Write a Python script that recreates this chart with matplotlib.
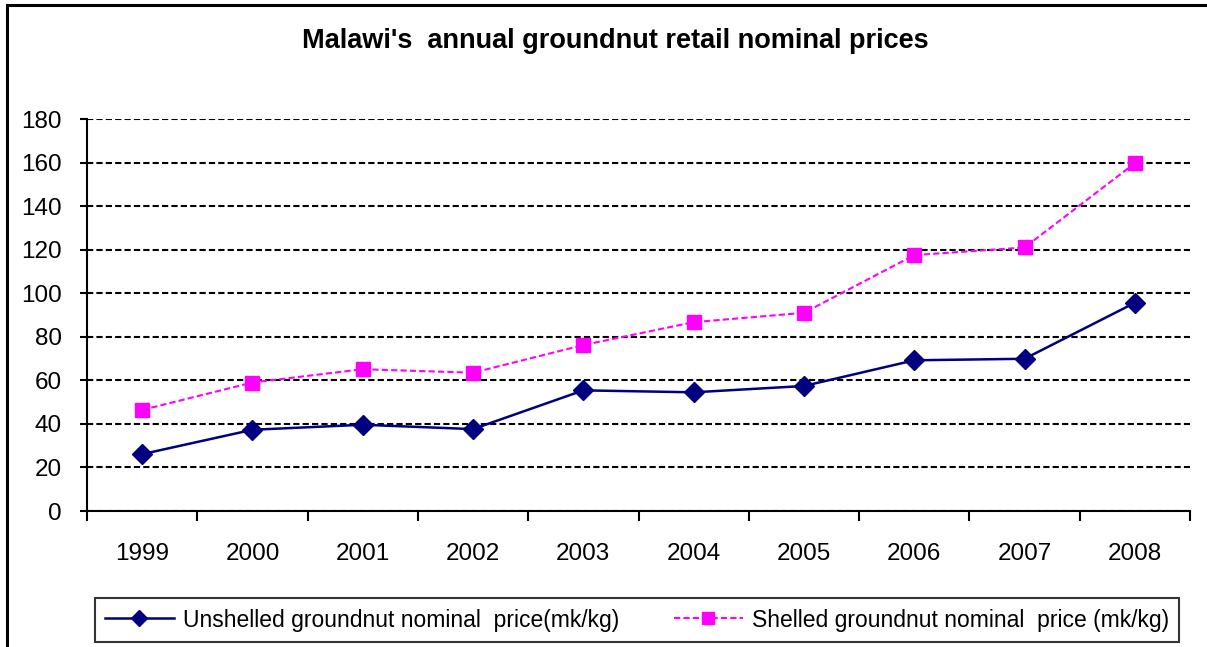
import matplotlib.pyplot as plt
from matplotlib.patches import Rectangle

plt.rcParams["font.family"] = ["Liberation Sans", "DejaVu Sans"]

years = ["1999", "2000", "2001", "2002", "2003", "2004", "2005", "2006", "2007", "2008"]
unshelled = [26.1, 37.3, 39.6, 37.6, 55.4, 54.5, 57.4, 69.2, 69.9, 95.6]
shelled = [46.4, 59.0, 65.1, 63.5, 76.2, 86.7, 91.0, 117.5, 121.0, 159.7]

W, H = 1207, 647
fig = plt.figure(figsize=(W / 100, H / 100), dpi=100)
ax = fig.add_axes([87 / W, 1 - 511 / H, (1190 - 87) / W, (511 - 119) / H])

# outer frame (runs off the right/bottom edges like the original)
fig.patches.append(Rectangle((7 / W, -0.1), 1.2, 1 - 5 / H + 0.1, transform=fig.transFigure,
                             fill=False, edgecolor="black", linewidth=2.2, clip_on=False))

x = list(range(len(years)))
ax.plot(x, unshelled, color="#000080", linewidth=1.8, marker="D", markersize=10,
        label="Unshelled groundnut nominal  price(mk/kg)")
ax.plot(x, shelled, color="#FF00FF", linewidth=1.5, linestyle=(0, (3, 1.5)), marker="s",
        markersize=10.5, label="Shelled groundnut nominal  price (mk/kg)")

ax.set_xlim(-0.5, len(years) - 0.5)
ax.set_ylim(0, 180)
ax.set_yticks(range(0, 181, 20))
ax.set_xticks(x)
ax.set_xticklabels(years)
ax.set_xticks([i - 0.5 for i in range(len(years) + 1)], minor=True)
ax.tick_params(axis="x", which="major", length=0, pad=23, labelsize=17.5)
ax.tick_params(axis="x", which="minor", length=7, width=1.5, direction="out")
ax.tick_params(axis="y", length=5, width=1.5, direction="out", labelsize=17.5, pad=13)

ax.yaxis.grid(True, color="black", linestyle=(0, (3, 1.5)), linewidth=1.5)
ax.set_axisbelow(True)
for s in ["top", "right"]:
    ax.spines[s].set_visible(False)
ax.spines["left"].set_linewidth(1.5)
ax.spines["bottom"].set_linewidth(1.5)

fig.text(615 / W, 1 - 41 / H, "Malawi's  annual groundnut retail nominal prices",
         ha="center", va="center", fontsize=19.5, fontweight="bold")

leg = ax.legend(loc="center", bbox_to_anchor=(637 / W, 1 - 620 / H), bbox_transform=fig.transFigure,
                ncol=2, frameon=True, fancybox=False, fontsize=16.5, handlelength=3.0,
                columnspacing=2.4, borderpad=0.45, handletextpad=0.4, borderaxespad=0)
leg.get_frame().set_edgecolor("black")
leg.get_frame().set_linewidth(1.5)
for line in leg.get_lines():
    line.set_markersize(8)

fig.savefig("out.png", dpi=100)
